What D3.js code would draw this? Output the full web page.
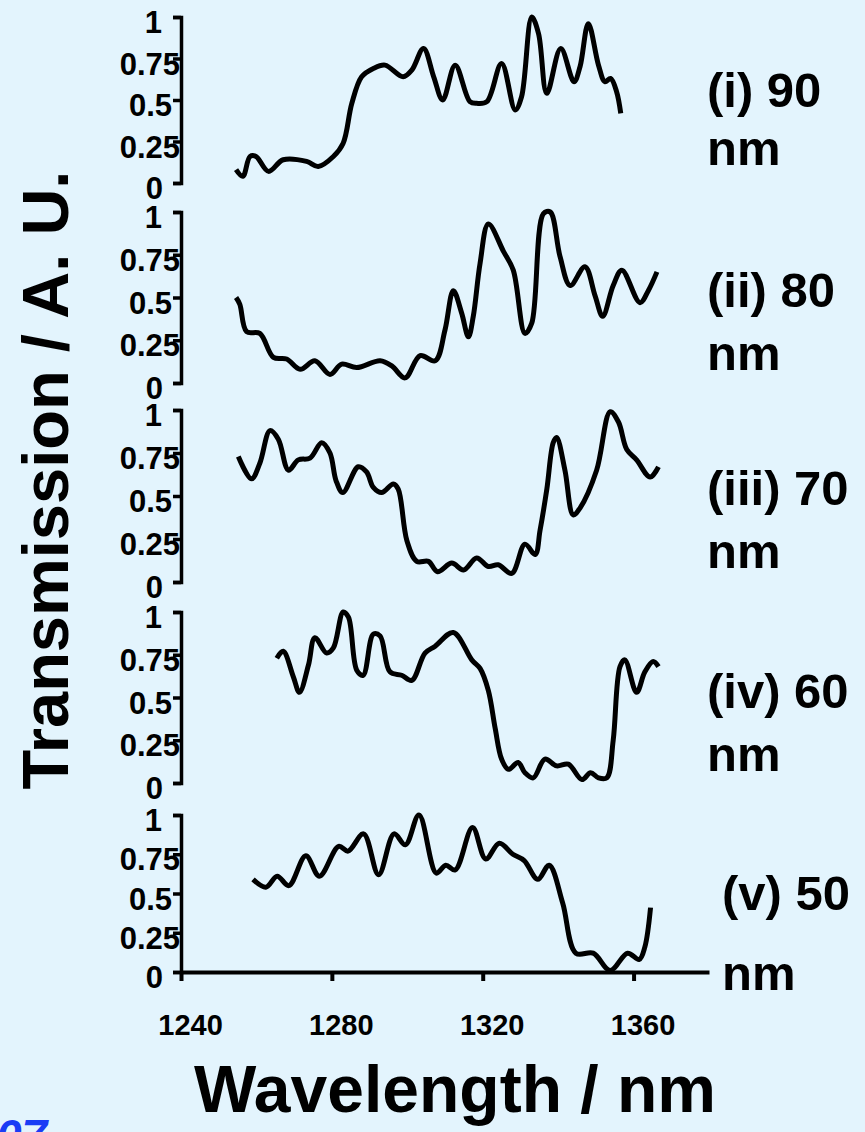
<!doctype html>
<html lang="en">
<head>
<meta charset="utf-8">
<title>Transmission spectra</title>
<script src="https://cdn.jsdelivr.net/npm/d3@7"></script>
<style>
  html, body { margin: 0; padding: 0; background: #e3f4fd; }
  svg text { font-family: "Liberation Sans", Arial, sans-serif; font-weight: bold; fill: #000; }
</style>
</head>
<body>
<svg id="chart" width="865" height="1132"></svg>
<script>
  //
  // Data
  //

  var xTicks = [1240, 1280, 1320, 1360]
  var yTicks = [0, 0.25, 0.5, 0.75, 1]
  var yTickLabels = ['0', '0.25', '0.5', '0.75', '1']
  var panelLabels = ['(i) 90', '(ii) 80', '(iii) 70', '(iv) 60', '(v) 50']

  var nm90 = [1254.6, 1256.4, 1258.3, 1259.9, 1263.2, 1267.1, 1273.3, 1276.4, 1280.4, 1283.0, 1285.3, 1287.9, 1291.0, 1294.1, 1298.9, 1301.2, 1304.3, 1307.0, 1309.4, 1312.7, 1316.6, 1318.4, 1321.1, 1325.0, 1328.6, 1330.3, 1333.0, 1334.8, 1337.0, 1340.7, 1344.2, 1345.8, 1348.0, 1350.7, 1352.4, 1353.9, 1355.5, 1356.6]
  var t90 = [0.08, 0.04, 0.16, 0.16, 0.07, 0.14, 0.13, 0.10, 0.16, 0.24, 0.48, 0.64, 0.69, 0.71, 0.64, 0.68, 0.81, 0.64, 0.50, 0.71, 0.49, 0.48, 0.49, 0.72, 0.44, 0.52, 1.0, 0.90, 0.54, 0.81, 0.61, 0.70, 0.96, 0.71, 0.61, 0.63, 0.55, 0.42]

  var nm80 = [1254.6, 1255.6, 1257.4, 1260.9, 1264.5, 1268.0, 1271.6, 1275.5, 1279.5, 1282.6, 1286.6, 1292.8, 1295.9, 1299.4, 1303.4, 1307.4, 1310.0, 1312.2, 1314.4, 1316.2, 1317.5, 1319.3, 1321.5, 1325.5, 1328.1, 1331.2, 1333.0, 1336.1, 1337.9, 1340.5, 1343.2, 1347.1, 1349.8, 1351.8, 1354.6, 1356.9, 1361.7, 1363.9, 1366.2]
  var t80 = [0.50, 0.46, 0.30, 0.29, 0.15, 0.14, 0.08, 0.13, 0.05, 0.11, 0.09, 0.13, 0.10, 0.03, 0.16, 0.13, 0.31, 0.54, 0.41, 0.27, 0.39, 0.70, 0.93, 0.77, 0.66, 0.29, 0.35, 0.99, 1.0, 0.74, 0.57, 0.68, 0.51, 0.39, 0.57, 0.66, 0.47, 0.54, 0.65]

  var nm70 = [1255.2, 1258.7, 1260.9, 1263.6, 1265.8, 1268.5, 1271.1, 1274.2, 1277.3, 1279.5, 1281.1, 1282.9, 1287.0, 1289.2, 1291.0, 1293.2, 1296.3, 1297.6, 1299.9, 1302.5, 1305.6, 1308.0, 1311.8, 1314.9, 1318.4, 1321.5, 1324.1, 1327.7, 1331.2, 1333.9, 1335.2, 1337.0, 1338.7, 1339.6, 1341.8, 1344.0, 1345.8, 1350.2, 1353.8, 1356.0, 1358.2, 1360.8, 1364.4, 1366.6]
  var t70 = [0.73, 0.60, 0.69, 0.88, 0.83, 0.65, 0.71, 0.72, 0.81, 0.75, 0.59, 0.52, 0.67, 0.64, 0.55, 0.52, 0.57, 0.54, 0.24, 0.12, 0.12, 0.06, 0.11, 0.07, 0.14, 0.09, 0.10, 0.05, 0.22, 0.16, 0.30, 0.54, 0.81, 0.84, 0.65, 0.39, 0.43, 0.65, 0.99, 0.93, 0.77, 0.71, 0.61, 0.67]

  var nm60 = [1265.4, 1267.1, 1269.8, 1271.4, 1273.8, 1275.5, 1278.6, 1280.4, 1283.0, 1284.4, 1286.6, 1288.3, 1291.0, 1292.8, 1295.4, 1298.5, 1301.2, 1304.7, 1307.4, 1312.2, 1317.1, 1319.3, 1321.5, 1323.3, 1325.0, 1326.8, 1329.4, 1331.2, 1333.4, 1336.5, 1339.6, 1342.7, 1346.3, 1348.6, 1350.7, 1352.9, 1354.6, 1356.4, 1357.7, 1360.8, 1363.0, 1365.2, 1366.6]
  var t60 = [0.73, 0.77, 0.62, 0.53, 0.69, 0.85, 0.76, 0.79, 1.0, 0.97, 0.66, 0.63, 0.87, 0.86, 0.65, 0.63, 0.60, 0.76, 0.80, 0.88, 0.72, 0.67, 0.54, 0.32, 0.14, 0.08, 0.12, 0.06, 0.03, 0.14, 0.10, 0.11, 0.02, 0.06, 0.03, 0.03, 0.25, 0.68, 0.72, 0.53, 0.65, 0.71, 0.68]

  var nm50 = [1259.1, 1262.5, 1265.5, 1268.6, 1273.1, 1276.7, 1281.8, 1284.3, 1288.4, 1292.4, 1296.5, 1299.5, 1303.1, 1307.7, 1310.2, 1312.7, 1317.3, 1320.8, 1324.4, 1328.0, 1331.0, 1334.6, 1337.6, 1341.2, 1344.7, 1349.3, 1353.8, 1358.4, 1361.5, 1363.0, 1364.5]
  var t50 = [0.59, 0.54, 0.61, 0.55, 0.74, 0.61, 0.80, 0.77, 0.88, 0.62, 0.88, 0.81, 1.0, 0.63, 0.68, 0.65, 0.92, 0.72, 0.82, 0.75, 0.71, 0.59, 0.68, 0.44, 0.12, 0.12, 0.01, 0.12, 0.08, 0.16, 0.41]

  //
  // Layout
  //

  var width = 865, height = 1132
  var axisX = 181
  var xMax = 709
  // top (value 1) and bottom (value 0) pixel rows of each panel
  var panelRows = [[17, 183], [212, 383], [410, 582], [612, 783], [815, 972]]
  var labelRows = [[107, 165], [307, 370], [505, 568], [708, 771], [910, 990]]
  var labelX = [707, 707, 707, 707, 722]
  // the old chart does not right-align its tick labels evenly
  var yLabelShift = [-18, -1, -9, -1, -19]

  var series = [
    { nm: nm90, t: t90 },
    { nm: nm80, t: t80 },
    { nm: nm70, t: t70 },
    { nm: nm60, t: t60 },
    { nm: nm50, t: t50 }
  ]

  var svg = d3.select('#chart')
  svg.append('rect').attr('width', width).attr('height', height).attr('fill', '#e3f4fd')

  var x = d3.scaleLinear().domain([1240, 1380]).range([axisX, xMax])

  series.forEach(function (s, i) {
    var rows = panelRows[i]
    var y = d3.scaleLinear().domain([0, 1]).range([rows[1], rows[0]])

    var yAxis = svg.append('g')
      .attr('transform', 'translate(' + axisX + ',0)')
      .call(d3.axisLeft(y).tickValues(yTicks).tickSize(8).tickSizeOuter(8)
        .tickFormat(function (d, k) { return yTickLabels[k] }))
    yAxis.selectAll('path.domain').attr('stroke', '#000').attr('stroke-width', 3.5)
    yAxis.selectAll('.tick line').attr('stroke', '#000').attr('stroke-width', 3.5)
    yAxis.selectAll('.tick text')
      .attr('x', function (d, k) { return yLabelShift[k] })
      .attr('dy', '0.5em')
      .style('font-size', '31px')

    var line = d3.line()
      .x(function (d) { return x(d[0]) })
      .y(function (d) { return y(d[1]) })
      .curve(d3.curveCatmullRom.alpha(0.5))

    svg.append('path')
      .datum(d3.zip(s.nm, s.t))
      .attr('d', line)
      .attr('fill', 'none')
      .attr('stroke', '#000')
      .attr('stroke-width', 5)
      .attr('stroke-linejoin', 'round')

    svg.append('text').attr('x', labelX[i]).attr('y', labelRows[i][0])
      .style('font-size', '49px').text(panelLabels[i])
    svg.append('text').attr('x', labelX[i]).attr('y', labelRows[i][1])
      .style('font-size', '49px').text('nm')
  })

  // x axis under the last panel
  var xAxis = svg.append('g')
    .attr('transform', 'translate(0,' + panelRows[4][1] + ')')
    .call(d3.axisBottom(x).tickValues(xTicks).tickSize(9).tickSizeOuter(0).tickFormat(d3.format('d')))
  xAxis.selectAll('path.domain').attr('stroke', '#000').attr('stroke-width', 4)
  xAxis.selectAll('.tick line').attr('stroke', '#000').attr('stroke-width', 4)
  xAxis.selectAll('.tick text').attr('y', 42).attr('dx', 9).style('font-size', '29px')

  // titles
  svg.append('text')
    .attr('x', 455).attr('y', 1112)
    .attr('text-anchor', 'middle')
    .style('font-size', '66px')
    .text('Wavelength / nm')

  svg.append('text')
    .attr('transform', 'translate(68,480) rotate(-90)')
    .attr('text-anchor', 'middle')
    .style('font-size', '65px')
    .text('Transmission / A. U.')

  // clipped slide footer text in the corner
  svg.append('text')
    .attr('x', -4).attr('y', 1152)
    .style('font-size', '46px').style('font-style', 'italic')
    .style('fill', '#1a3cf5')
    .text('07')
</script>
</body>
</html>
